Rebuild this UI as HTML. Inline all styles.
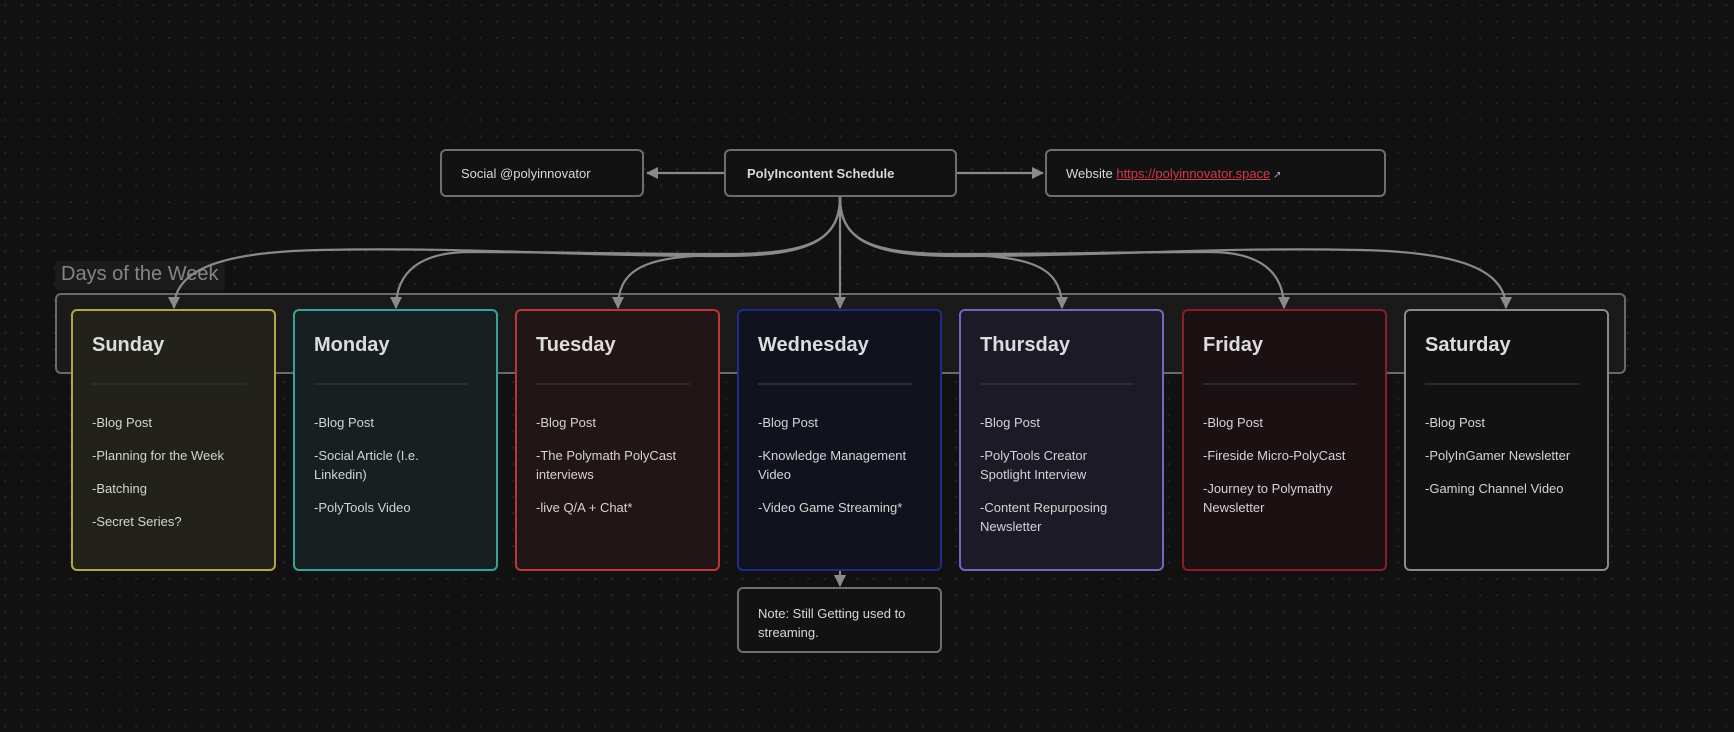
<!DOCTYPE html>
<html><head><meta charset="utf-8"><style>
*{margin:0;padding:0;box-sizing:border-box}
body{width:1734px;height:732px;overflow:hidden;background:#111;font-family:"Liberation Sans","DejaVu Sans",sans-serif;position:relative;
background-image:radial-gradient(circle,#262626 1px,transparent 1.3px);background-size:16.4px 16.4px;background-position:-3px -3px}
.abs{position:absolute}
.box{position:absolute;border:2px solid #6e6e6e;border-radius:6px;background:#121212;color:#d8d8d8;font-size:13px}
.card{position:absolute;top:309px;width:205px;height:262px;border:2px solid;border-radius:6px;color:#d4d4d4}
.card h2{position:absolute;left:19px;top:23px;font-size:20px;font-weight:bold;color:#dcdcdc}
.card hr{position:absolute;left:19px;top:72px;width:154px;border:0;border-top:2px solid #2c2c2c}
.card ul{position:absolute;left:19px;top:102px;list-style:none;font-size:13px;line-height:19px;width:160px}
.card li{margin-bottom:14px}
</style></head><body>
<div class="abs" style="left:55px;top:293px;width:1571px;height:81px;border:2px solid #6a6a6a;border-radius:6px;background:#1a1a1a"></div>
<div class="abs" style="left:55px;top:261px;width:170px;height:29px;background:#1b1b1b;border-radius:3px;color:#858585;font-size:20px;padding:2px 6px">Days of the Week</div>

<div class="box" style="left:440px;top:149px;width:204px;height:48px;padding:15px 19px">Social @polyinnovator</div>
<div class="box" style="left:724px;top:149px;width:233px;height:48px;padding:15px 21px;font-weight:bold">PolyIncontent Schedule</div>
<div class="box" style="left:1045px;top:149px;width:341px;height:48px;padding:15px 19px">Website <span style="color:#d23a4a;text-decoration:underline">https://polyinnovator.space</span><span style="font-size:10px;color:#aaa"> ↗</span></div>

<div class="card" style="left:71px;background:#22221b;border-color:#b0a844"><h2>Sunday</h2><hr><ul><li>-Blog Post</li><li>-Planning for the Week</li><li>-Batching</li><li>-Secret Series?</li></ul></div>
<div class="card" style="left:293px;background:#171f20;border-color:#35a39b"><h2>Monday</h2><hr><ul><li>-Blog Post</li><li>-Social Article (I.e.<br>Linkedin)</li><li>-PolyTools Video</li></ul></div>
<div class="card" style="left:515px;background:#221516;border-color:#bd3439"><h2>Tuesday</h2><hr><ul><li>-Blog Post</li><li>-The Polymath PolyCast interviews</li><li>-live Q/A + Chat*</li></ul></div>
<div class="card" style="left:737px;background:#10131e;border-color:#1f2a8c"><h2>Wednesday</h2><hr><ul><li>-Blog Post</li><li>-Knowledge Management Video</li><li>-Video Game Streaming*</li></ul></div>
<div class="card" style="left:959px;background:#1c1a26;border-color:#7c62c0"><h2>Thursday</h2><hr><ul><li>-Blog Post</li><li>-PolyTools Creator<br>Spotlight Interview</li><li>-Content Repurposing Newsletter</li></ul></div>
<div class="card" style="left:1182px;background:#1c1112;border-color:#8a1f24"><h2>Friday</h2><hr><ul><li>-Blog Post</li><li>-Fireside Micro-PolyCast</li><li>-Journey to Polymathy Newsletter</li></ul></div>
<div class="card" style="left:1404px;background:#121212;border-color:#8a8a8a"><h2>Saturday</h2><hr><ul><li>-Blog Post</li><li>-PolyInGamer Newsletter</li><li>-Gaming Channel Video</li></ul></div>

<div class="box" style="left:737px;top:587px;width:205px;height:66px;padding:15px 19px;line-height:19px;font-size:13px">Note: Still Getting used to streaming.</div>

<svg class="abs" style="left:0;top:0" width="1734" height="732">
<defs><marker id="a" markerWidth="14" markerHeight="14" refX="11" refY="6" orient="auto" markerUnits="userSpaceOnUse"><path d="M0,0 L12,6 L0,12z" fill="#8a8a8a"/></marker></defs>
<g stroke="#8a8a8a" stroke-width="2.2" fill="none">
<path d="M724 173 L647 173" marker-end="url(#a)"/>
<path d="M957 173 L1043 173" marker-end="url(#a)"/>
<path d="M840 197 L840 308" marker-end="url(#a)"/>
<path d="M840 197 C840 245 800 256 720 256 C560 256 480 247 320 250 C220 252 174 270 174 308" marker-end="url(#a)"/>
<path d="M840 197 C840 243 805 254 730 254 C620 254 560 252 470 252 C420 252 396 272 396 308" marker-end="url(#a)"/>
<path d="M840 197 C840 240 810 252 740 254 C660 256 618 260 618 308" marker-end="url(#a)"/>
<path d="M840 197 C840 240 870 252 940 254 C1020 256 1062 260 1062 308" marker-end="url(#a)"/>
<path d="M840 197 C840 243 875 254 950 254 C1060 254 1120 252 1210 252 C1260 252 1284 272 1284 308" marker-end="url(#a)"/>
<path d="M840 197 C840 245 880 256 960 256 C1120 256 1200 247 1360 250 C1460 252 1506 270 1506 308" marker-end="url(#a)"/>
<path d="M840 571 L840 586" marker-end="url(#a)"/>
</g></svg>
</body></html>
